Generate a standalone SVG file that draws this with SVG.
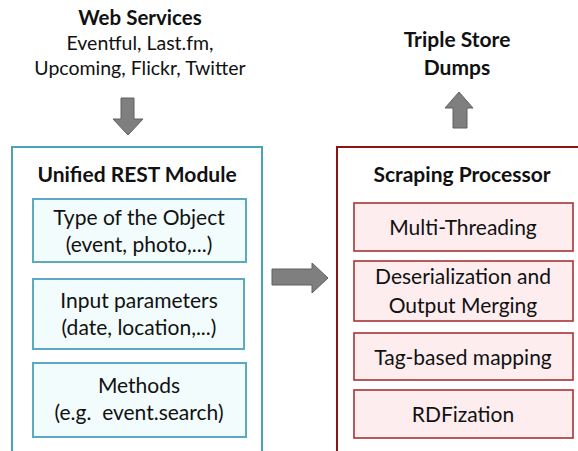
<svg xmlns="http://www.w3.org/2000/svg" width="578" height="451" viewBox="0 0 578 451">
<style>
text{font-family:Lato,"Liberation Sans",sans-serif;fill:#111;text-anchor:middle}
.h{font-weight:bold;font-size:21px}
.t{font-size:21px}
.s{font-size:19.5px}
.outerL{fill:#fff;stroke:#4BA3B8;stroke-width:2}
.innerL{fill:#F2FCFC;stroke:#5AABBF;stroke-width:2}
.outerR{fill:#fff;stroke:#8B1414;stroke-width:2}
.innerR{fill:#FDEDEE;stroke:#A83236;stroke-width:1.6}
.arrow{fill:#7F7F7F;stroke:#606060;stroke-width:1}
</style>
<g id="web-services">
<text class="h" x="140" y="25" style="font-size:20.5px">Web Services</text>
<text class="s" x="140" y="50">Eventful, Last.fm,</text>
<text class="s" x="140" y="75">Upcoming, Flickr, Twitter</text>
</g>
<g id="triple-store">
<text class="h" x="457" y="47">Triple Store</text>
<text class="h" x="457" y="75">Dumps</text>
</g>
<g id="unified-rest-module">
<rect class="outerL" x="12" y="147" width="250" height="320"/>
<text class="h" x="137" y="182">Unified REST Module</text>
</g>
<g id="type-of-object">
<rect class="innerL" x="33" y="199" width="213" height="63"/>
<text class="t" x="139" y="225">Type of the Object</text>
<text class="t" x="139" y="252">(event, photo,...)</text>
</g>
<g id="input-parameters">
<rect class="innerL" x="33" y="279" width="211" height="70"/>
<text class="t" x="139" y="308">Input parameters</text>
<text class="t" x="139" y="335">(date, location,...)</text>
</g>
<g id="methods">
<rect class="innerL" x="33" y="363" width="213" height="74"/>
<text class="t" x="139" y="393">Methods</text>
<text class="t" x="139" y="420" xml:space="preserve">(e.g.  event.search)</text>
</g>
<g id="scraping-processor">
<rect class="outerR" x="337" y="147" width="260" height="320"/>
<text class="h" x="462" y="182">Scraping Processor</text>
</g>
<g id="multi-threading">
<rect class="innerR" x="354" y="203" width="219" height="48"/>
<text class="t" x="463" y="235">Multi-Threading</text>
</g>
<g id="deserialization">
<rect class="innerR" x="354" y="261" width="219" height="60"/>
<text class="t" x="463" y="284">Deserialization and</text>
<text class="t" x="463" y="313">Output Merging</text>
</g>
<g id="tag-mapping">
<rect class="innerR" x="354" y="333" width="219" height="47"/>
<text class="t" x="463" y="365">Tag-based mapping</text>
</g>
<g id="rdfization">
<rect class="innerR" x="354" y="390" width="219" height="48"/>
<text class="t" x="463" y="422">RDFization</text>
</g>
<g id="connectors">
<polygon class="arrow" points="121,98 134,98 134,119 143,119 128,135 113,119 121,119"/>
<polygon class="arrow" points="459,92 473,108 467,108 467,128 453,128 453,108 445,108"/>
<polygon class="arrow" points="272,269 312,269 312,263 328,278 312,293 312,285 272,285"/>
</g>
</svg>
